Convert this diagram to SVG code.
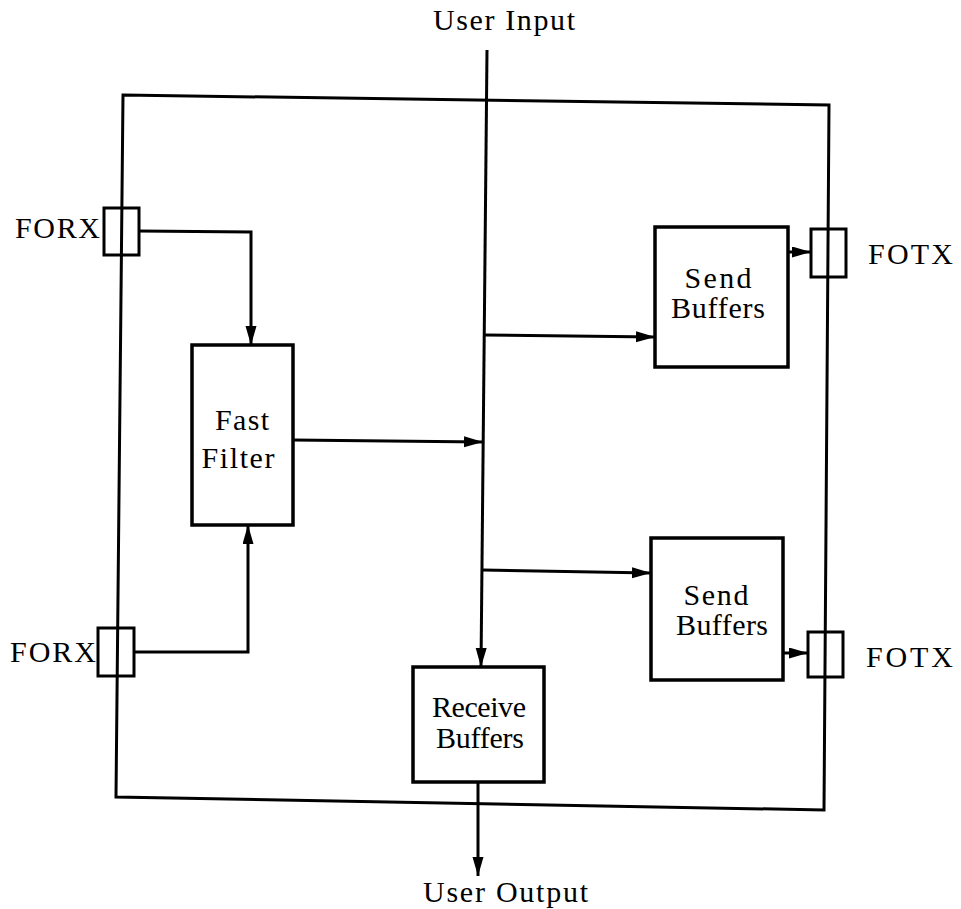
<svg xmlns="http://www.w3.org/2000/svg" width="961" height="909" viewBox="0 0 961 909">
<defs>
<style>
.ln{fill:none;stroke:#000;stroke-width:3;stroke-linecap:butt;stroke-linejoin:miter}
.bx{fill:none;stroke:#000;stroke-width:3.5}
.pt{fill:none;stroke:#000;stroke-width:3}
.tx{font-family:"Liberation Serif","Times New Roman",serif;font-size:30px;fill:#000}
.mid{text-anchor:middle}
</style>
<marker id="ah" markerUnits="userSpaceOnUse" markerWidth="20" markerHeight="12" refX="19" refY="5.5" orient="auto">
<path d="M0,0 L19,5.5 L0,11 Z" fill="#000"/>
</marker>
</defs>
<rect width="961" height="909" fill="#fff"/>
<g id="frame">
<polygon class="ln" points="123,95 829,105 824,810 116,797"/>
</g>
<g id="forx-top">
<rect class="pt" x="104" y="208" width="35" height="47"/>
<text class="tx" x="15" y="238" textLength="85" lengthAdjust="spacing">FORX</text>
</g>
<g id="forx-bottom">
<rect class="pt" x="98" y="628" width="36" height="48"/>
<text class="tx" x="10" y="662" textLength="86" lengthAdjust="spacing">FORX</text>
</g>
<g id="fotx-top">
<rect class="pt" x="811" y="229" width="35" height="48"/>
<text class="tx" x="868" y="264" textLength="85" lengthAdjust="spacing">FOTX</text>
</g>
<g id="fotx-bottom">
<rect class="pt" x="808" y="632" width="35" height="45"/>
<text class="tx" x="866" y="667" textLength="87" lengthAdjust="spacing">FOTX</text>
</g>
<g id="fast-filter">
<rect class="bx" x="192" y="345" width="101" height="180"/>
<text class="tx mid" x="242" y="430" textLength="54" lengthAdjust="spacing">Fast</text>
<text class="tx mid" x="238" y="468" textLength="73" lengthAdjust="spacing">Filter</text>
</g>
<g id="send-buffers-top">
<rect class="bx" x="655" y="227" width="133" height="140"/>
<text class="tx mid" x="718" y="288" textLength="67" lengthAdjust="spacing">Send</text>
<text class="tx mid" x="718" y="318" textLength="94" lengthAdjust="spacing">Buffers</text>
</g>
<g id="send-buffers-bottom">
<rect class="bx" x="651" y="538" width="132" height="142"/>
<text class="tx mid" x="716" y="605" textLength="65" lengthAdjust="spacing">Send</text>
<text class="tx mid" x="722" y="635" textLength="92" lengthAdjust="spacing">Buffers</text>
</g>
<g id="receive-buffers">
<rect class="bx" x="413" y="667" width="131" height="115"/>
<text class="tx mid" x="479" y="717" textLength="94" lengthAdjust="spacing">Receive</text>
<text class="tx mid" x="480" y="748" textLength="88" lengthAdjust="spacing">Buffers</text>
</g>
<g id="user-input">
<text class="tx" x="433" y="30" textLength="142" lengthAdjust="spacing">User Input</text>
</g>
<g id="user-output">
<text class="tx" x="423" y="902" textLength="165" lengthAdjust="spacing">User Output</text>
</g>
<g id="connectors">
<polyline class="ln" points="139,231 251,232 251,345" marker-end="url(#ah)"/>
<polyline class="ln" points="134,652 248,652 248,525" marker-end="url(#ah)"/>
<line class="ln" x1="293" y1="440" x2="483" y2="442" marker-end="url(#ah)"/>
<line class="ln" x1="487" y1="50" x2="481" y2="667" marker-end="url(#ah)"/>
<line class="ln" x1="485" y1="335" x2="655" y2="337" marker-end="url(#ah)"/>
<line class="ln" x1="483" y1="570" x2="651" y2="573" marker-end="url(#ah)"/>
<line class="ln" x1="788" y1="252" x2="811" y2="252" marker-end="url(#ah)"/>
<line class="ln" x1="783" y1="653" x2="808" y2="653" marker-end="url(#ah)"/>
<line class="ln" x1="478" y1="782" x2="478" y2="876" marker-end="url(#ah)"/>
</g>
</svg>
